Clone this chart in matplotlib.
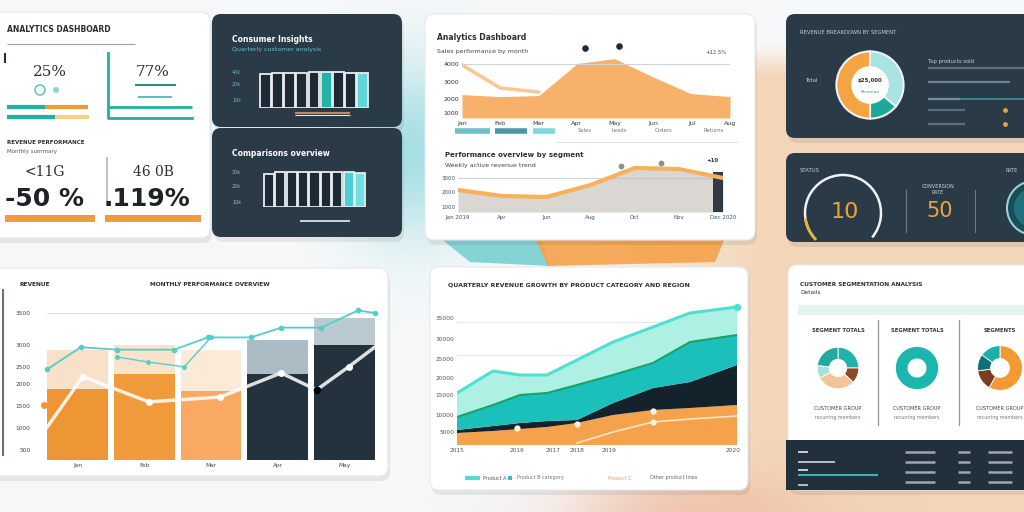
import numpy as np
import matplotlib.pyplot as plt
from matplotlib.patches import FancyBboxPatch, Circle, Arc, Polygon, Rectangle

W, H = 1024, 512

# ---------------- data ----------------
# top-left KPI card
kpi_small = ["25%", "77%"]
kpi_mid = ["<11G", "46 0B"]
kpi_big = ["-50 %", ".119%"]

# dark mini slat charts
slats_a = [0.93, 0.97, 0.97, 0.98, 1.0, 1.0, 1.0, 0.98, 0.96]
slats_b = [0.95, 0.98, 1.0, 1.0, 1.0, 1.0, 0.99, 0.98, 0.96]

# top-middle upper area chart
area1_x = [0, 1, 2, 3, 4, 5, 6, 7]
area1_y = [25, 23, 24, 56, 61, 43, 26, 23]
area1_faded = [53, 30, 26]
area1_dots_x = [3.2, 4.1]
area1_dots_y = [70, 72]
area1_labels = ["Jan", "Feb", "Mar", "Apr", "May", "Jun", "Jul", "Aug"]
area1_yticks = [5, 19, 36, 54]
area1_yticklabels = ["1000", "2000", "3000", "4000"]

# top-middle lower line chart
line2_x = [0, 1, 2, 3, 4, 5, 6]
line2_y = [22, 16, 15, 27, 44, 43, 34]
line2_labels = ["Jan 2019", "Apr", "Jun", "Aug", "Oct", "Nov", "Dec 2020"]

# top-right donut
donut_main = [36, 14, 50]
donut_main_colors = ["#a9e4e3", "#1ba99b", "#f4a443"]

# bottom-left bar chart
bar_labels = ["Jan", "Feb", "Mar", "Apr", "May"]
bar_actual = [29, 35, 28, 35, 47]
bar_target = [45, 47, 45, 49, 58]
bar_colors = ["#ee9634", "#f09a3c", "#f8a964", "#24323e", "#24323e"]
bar_light = ["#f8d6b6", "#f9d9bb", "#fbe3cc", "#91a6b0", "#a5b9c1"]
teal_x = [-0.45, 0.05, 0.6, 1.45, 1.95, 2.6, 3.05, 3.65, 4.2, 4.45]
teal_y = [37, 46, 45, 45, 50, 50, 54, 54, 61, 60]
teal2_x = [0.6, 1.05, 1.6, 2.0]
teal2_y = [42, 40, 38, 50]
white_x = [-0.45, 0.08, 1.07, 2.14, 3.05, 3.58, 4.06, 4.45]
white_y = [13.5, 34, 23.7, 25.7, 35.5, 28.6, 38, 46]
bar_yticks = [4, 13, 22, 31, 38, 47, 60]
bar_yticklabels = ["500", "1000", "1500", "2000", "2500", "3000", "3500"]

# bottom-middle stacked area chart
stack_x = [0, 0.9, 1.575, 2.25, 3, 3.9, 4.9, 5.825, 7]
stack_orange = [6, 7, 8, 9, 11, 15, 17.5, 18.5, 20]
stack_dark = [1.5, 2.5, 3, 3, 1.5, 6, 11, 13, 20]
stack_teal = [6.5, 10.5, 14, 14, 17.5, 14, 12.5, 20, 15]
stack_light = [12, 17, 10, 9, 12.5, 16.5, 18, 14.5, 14]
stack_white_x = [3, 3.9, 4.9, 5.825, 7]
stack_white_y = [1, 6.5, 11.5, 13, 14.5]
stack_yticks = [6.5, 15, 25, 33.5, 43, 53, 63.5]
stack_yticklabels = ["5000", "10000", "15000", "20000", "25000", "30000", "35000"]
stack_xticks = [0, 1.5, 2.4, 3.0, 3.8, 6.9]
stack_xlabels = ["2015", "2016", "2017", "2018", "2019", "2020"]

# bottom-right donuts
donut1 = [25, 12, 30, 10, 23]
donut1_colors = ["#1fb3ac", "#8a4a25", "#f3c596", "#a7e0d8", "#22a9a3"]
donut2 = [100]
donut2_colors = ["#1db6ae"]
donut3 = [58, 15, 12, 15]
donut3_colors = ["#f39a35", "#7a3d1e", "#0f6f78", "#1bb0a8"]
donut_headers = ["SEGMENT TOTALS", "SEGMENT TOTALS", "SEGMENTS"]

DARK = "#2b3a47"
TXT = "#2a2f35"

fig = plt.figure(figsize=(10.24, 5.12), dpi=100)

# ---------------- background ----------------
bg = fig.add_axes([0, 0, 1, 1])
bg.set_xlim(0, W)
bg.set_ylim(H, 0)
bg.axis("off")

yy, xx = np.mgrid[0:H, 0:W]
img = np.ones((H, W, 3)) * np.array([0.965, 0.972, 0.976])


def blend(im, col, w):
    w = w[..., None]
    return im * (1 - w) + np.array(col) * w


img = blend(img, (0.95, 0.81, 0.67), np.clip((xx - 560) / 200, 0, 1) * np.clip((yy - 45) / 30, 0, 1) * 0.8)
img = blend(img, (0.60, 0.86, 0.88), np.exp(-((xx - 412) / 65) ** 2 - ((yy - 150) / 85) ** 2) * 0.85)
img = blend(img, (0.93, 0.70, 0.60), np.exp(-((xx - 690) / 130) ** 2 - ((yy - 512) / 40) ** 2) * 0.6)
bg.imshow(img, extent=(0, W, H, 0), aspect="auto", zorder=0)

bg.add_patch(Polygon([(440, 238), (540, 238), (550, 266), (470, 262)], fc="#86d3d5", ec="none", zorder=0.5))
bg.add_patch(Polygon([(535, 238), (725, 238), (715, 262), (548, 266)], fc="#f5a24a", ec="none", alpha=0.9, zorder=0.5))


def card(x0, y0, x1, y1, fc, r=9):
    bg.add_patch(FancyBboxPatch((x0 + 2, y0 + 5), x1 - x0, y1 - y0,
                                boxstyle=f"round,pad=0,rounding_size={r}",
                                fc="black", ec="none", alpha=0.07, zorder=1))
    bg.add_patch(FancyBboxPatch((x0, y0), x1 - x0, y1 - y0,
                                boxstyle=f"round,pad=0,rounding_size={r}",
                                fc=fc, ec="#e6e9eb" if fc == "white" else "none",
                                lw=0.8, zorder=1.2))


card(-12, 12, 210, 238, "white")
card(212, 14, 402, 127, DARK)
card(212, 128, 402, 237, DARK)
card(425, 14, 755, 240, "white")
card(786, 14, 1040, 138, DARK)
card(786, 153, 1040, 242, DARK)
card(-12, 268, 388, 476, "white")
card(430, 267, 748, 490, "white")
card(788, 265, 1040, 490, "white")
bg.add_patch(Rectangle((786, 440), 250, 50, fc="#22303b", ec="none", zorder=1.3))


def t(x, y, s, size=4.5, color=TXT, **kw):
    bg.text(x, y, s, fontsize=size, color=color, va="center", zorder=3, **kw)


def hline(x0, x1, y, color, lw=1.0, alpha=1.0):
    bg.plot([x0, x1], [y, y], color=color, lw=lw, alpha=alpha, solid_capstyle="butt", zorder=3)


# ---------------- top-left KPI card ----------------
t(7, 30, "ANALYTICS DASHBOARD", 5.5, weight="bold")
hline(7, 135, 44, "#9aa0a6", 0.8)
bg.plot([5, 5], [54, 62], color=TXT, lw=1.5, zorder=3)
t(33, 72, kpi_small[0], 11, family="DejaVu Serif")
t(136, 72, kpi_small[1], 11, family="DejaVu Serif")
bg.add_patch(Circle((40, 90), 5, fc="none", ec="#6cc8c6", lw=1.2, zorder=3))
bg.add_patch(Circle((56, 90), 3, fc="#8fd4d2", ec="none", zorder=3))
hline(7, 45, 107, "#1fb39c", 3)
hline(45, 88, 107, "#f09a3c", 3)
hline(7, 55, 117, "#1fb39c", 3)
hline(55, 89, 117, "#f8cf8a", 3)
bg.plot([108, 108, 192], [53, 118, 118], color="#1fb39c", lw=2, zorder=3)
hline(108, 192, 107, "#1fb39c", 2)
hline(135, 176, 85, "#2b8c86", 1.5)
hline(138, 172, 97, "#3ab8a6", 1.2)
t(7, 142, "REVENUE PERFORMANCE", 4, weight="bold")
t(7, 152, "Monthly summary", 4, color="#555")
bg.plot([107, 107], [158, 205], color="#bfc4c8", lw=1.5, zorder=3)
t(25, 172, kpi_mid[0], 10, family="DejaVu Serif")
t(133, 172, kpi_mid[1], 10, family="DejaVu Serif")
t(5, 199, kpi_big[0], 18, weight="bold", color="#1e2328")
t(104, 199, kpi_big[1], 18, weight="bold", color="#1e2328")
bg.add_patch(Rectangle((5, 215), 90, 7, fc="#ef9b3e", ec="none", zorder=3))
bg.add_patch(Rectangle((105, 215), 96, 7, fc="#ef9b3e", ec="none", zorder=3))


# ---------------- dark slat cards ----------------
def slat_chart(box, vals, teal_idx):
    x0, y0, x1, y1 = box
    ax = fig.add_axes([x0 / W, 1 - y1 / H, (x1 - x0) / W, (y1 - y0) / H])
    cols = ["#1d2a34"] * len(vals)
    for i, c in teal_idx.items():
        cols[i] = c
    ax.bar(range(len(vals)), vals, width=0.9, color=cols, edgecolor="#e8edf0", lw=1.3)
    ax.set_ylim(0, 1.05)
    ax.set_xlim(-0.6, len(vals) - 0.4)
    ax.axis("off")
    return ax


t(232, 40, "Consumer Insights", 5.5, color="white", weight="bold")
t(232, 49, "Quarterly customer analysis", 4.5, color="#5fc4c8")
for yv, s in zip([72, 85, 100], ["40k", "20k", "10k"]):
    t(232, yv, s, 3.5, color="#6fb5b8")
slat_chart((258, 70, 370, 108), slats_a, {5: "#21b3a3", 8: "#5fd7da"})
hline(295, 350, 113, "#c48a5a", 1.5)
hline(295, 350, 115, "#f0e6d8", 0.8)

t(232, 153, "Comparisons overview", 5.5, color="white", weight="bold")
for yv, s in zip([172, 187, 203], ["30k", "20k", "10k"]):
    t(232, yv, s, 3.5, color="#aab4bb")
slat_chart((262, 170, 367, 207), slats_b, {7: "#4fcfd5", 8: "#6fdfe2"})
hline(300, 350, 221, "#e9edf0", 1.2)


def style(ax, size=4.5, color="#555"):
    for s in ax.spines.values():
        s.set_visible(False)
    ax.tick_params(length=0, labelsize=size, labelcolor=color, pad=2)
    ax.patch.set_alpha(0)


# ---------------- top-middle card ----------------
t(437, 37, "Analytics Dashboard", 5.5, weight="bold")
t(437, 52, "Sales performance by month", 4.5, color="#444")
t(705, 53, "+12.5%", 3.8, color="#444")
ax1 = fig.add_axes([462 / W, 1 - 118 / H, 268 / W, 73 / H])
ax1.fill_between(area1_x, area1_y, color="#f7a95a", alpha=0.9, lw=0)
ax1.plot(area1_x, area1_y, color="white", lw=3)
ax1.plot(area1_x[:3], area1_faded, color="#f6b979", lw=2.5, alpha=0.8)
ax1.axhline(54, color="#cfd4d8", lw=0.8)
ax1.scatter(area1_dots_x, area1_dots_y, s=14, color="#1e2a35", zorder=5, clip_on=False)
ax1.set_xlim(0, 7)
ax1.set_ylim(0, 73)
ax1.set_yticks(area1_yticks, area1_yticklabels)
ax1.set_xticks(area1_x, area1_labels)
style(ax1, 4.5, "#333")
for (xa, xb), c in zip([(455, 490), (495, 527), (533, 555)], ["#6fbfc8", "#4a9aa6", "#7fd8dc"]):
    hline(xa, xb, 131, c, 4)
for xv, s in zip([578, 612, 655, 704], ["Sales", "Leads", "Orders", "Returns"]):
    t(xv, 131, s, 3.8, color="#777")
hline(555, 738, 142, "#dde2e5", 0.8)

t(445, 155, "Performance overview by segment", 5, weight="bold")
t(445, 166, "Weekly active revenue trend", 4.5, color="#444")
t(706, 160, "+10", 4, color="#333", weight="bold")
ax2 = fig.add_axes([458 / W, 1 - 212 / H, 265 / W, 47 / H])
ax2.fill_between(line2_x, line2_y, color="#bdb6b0", alpha=0.55, lw=0)
ax2.plot(line2_x, line2_y, color="#f6b15a", lw=3)
ax2.bar([5.9], [40], width=0.25, color="#2f3a44")
ax2.scatter([3.7, 4.6], [46, 49], s=10, color="#8a8f94", zorder=5, clip_on=False)
ax2.axhline(34, color="#cfd4d8", lw=0.8, zorder=0)
ax2.set_xlim(0, 6)
ax2.set_ylim(0, 47)
ax2.set_yticks([5, 20, 34], ["1000", "2000", "3000"])
ax2.set_xticks(line2_x, line2_labels)
style(ax2, 4, "#3c5566")

# ---------------- top-right dark cards ----------------
t(800, 32, "REVENUE BREAKDOWN BY SEGMENT", 3.8, color="#c8cfd4")
t(806, 80, "Total", 3.8, color="#c8cfd4")
axd = fig.add_axes([828 / W, 1 - 127 / H, 84 / W, 84 / H])
axd.pie(donut_main, colors=donut_main_colors, startangle=90, counterclock=False,
        wedgeprops=dict(edgecolor="#eef2f2", lw=1.5))
axd.add_patch(Circle((0, 0), 0.56, fc="white", ec="none"))
axd.text(0, 0.12, "$25,000", fontsize=4, ha="center", va="center", color=TXT, weight="bold")
axd.text(0, -0.22, "Revenue", fontsize=3.2, ha="center", va="center", color="#2b8c86")
axd.set_aspect("equal")
t(928, 61, "Top products sold", 3.8, color="#c8cfd4")
for yv, xe, c in [(68, 1024, "#5b6e7c"), (82, 1010, "#6d8190"), (99, 960, "#7a8e9c"),
                  (110, 965, "#54707f"), (124, 965, "#5b6e7c")]:
    hline(928, xe, yv, c, 1.6)
hline(960, 1024, 99, "#3f8fa5", 1.2)
bg.scatter([1005, 1005], [110, 124], s=6, color="#f0a040", zorder=4)

t(800, 170, "STATUS", 3.8, color="#c8cfd4")
bg.add_patch(Arc((843, 213), 76, 76, theta1=140, theta2=40, color="#eef2f4", lw=1.8, zorder=3))
bg.add_patch(Arc((843, 213), 76, 76, theta1=135, theta2=172, color="#e8b33a", lw=2, zorder=3.1))
t(845, 212, "10", 16, color="#f0a23f", ha="center")
bg.plot([906, 906], [190, 232], color="#6b7a86", lw=0.8, zorder=3)
bg.plot([975, 975], [190, 232], color="#6b7a86", lw=0.8, zorder=3)
t(938, 186, "CONVERSION", 3.5, color="#c8cfd4", ha="center")
t(938, 193, "RATE", 3.5, color="#c8cfd4", ha="center")
t(940, 211, "50", 15, color="#f0a23f", ha="center")
t(1005, 170, "RATE", 3.5, color="#c8cfd4")
bg.add_patch(Circle((1034, 208), 27, fc="#1a4d5a", ec="#9ed0d2", lw=1.5, zorder=3))
bg.add_patch(Circle((1034, 208), 20, fc="#1f7c88", ec="none", alpha=0.8, zorder=3.1))

# ---------------- bottom-left bar chart ----------------
t(20, 285, "REVENUE", 4.2, weight="bold")
t(210, 285, "MONTHLY PERFORMANCE OVERVIEW", 4.2, ha="center", weight="bold")
bg.plot([3, 3], [290, 455], color="#6b7075", lw=1.5, zorder=3)
ax3 = fig.add_axes([47 / W, 1 - 460 / H, 328 / W, 152 / H])
xb = np.arange(len(bar_actual))
ax3.bar(xb, bar_target, width=0.91, color=bar_light, alpha=0.75, zorder=1)
ax3.bar(xb, bar_actual, width=0.91, color=bar_colors, zorder=2)
ax3.axhline(60, color="#dfe3e6", lw=0.8, zorder=0)
ax3.plot(teal_x, teal_y, color="#52cfc6", lw=1.3, marker="o", ms=3, zorder=4, clip_on=False)
ax3.plot(teal2_x, teal2_y, color="#52cfc6", lw=1.0, marker="o", ms=2.5, zorder=4)
ax3.plot(white_x, white_y, color="white", lw=2.5, alpha=0.85, zorder=3, clip_on=False)
ax3.scatter(white_x[1:-1], white_y[1:-1], s=16, color="white", zorder=5)
ax3.scatter([3.58], [28.6], s=20, color="black", zorder=6)
ax3.scatter([-0.5], [22.4], s=16, color="#f0982f", zorder=6, clip_on=False)
ax3.set_xlim(-0.455, 4.455)
ax3.set_ylim(0, 62)
ax3.set_yticks(bar_yticks, bar_yticklabels)
ax3.set_xticks(xb, bar_labels)
style(ax3, 4.2, "#444")
ax3.tick_params(axis="y", pad=12)

# ---------------- bottom-middle stacked area ----------------
t(448, 285, "QUARTERLY REVENUE GROWTH BY PRODUCT CATEGORY AND REGION", 4.5, weight="bold")
ax4 = fig.add_axes([457 / W, 1 - 445 / H, 280 / W, 145 / H])
ax4.stackplot(stack_x, stack_orange, stack_dark, stack_teal, stack_light,
              colors=["#f5a24c", "#14222c", "#1cc0bb", "#aef0e3"], lw=0)
cum = np.cumsum([stack_orange, stack_dark, stack_teal, stack_light], axis=0)
ax4.plot(stack_x, cum[2], color="#17a36a", lw=1.5)
ax4.plot(stack_x, cum[3], color="#4fe0d0", lw=2.2)
ax4.plot(stack_white_x, stack_white_y, color="#fbe6c8", lw=1.2)
ax4.scatter([1.5, 3.0, 4.9, 4.9], [8.5, 10.5, 17, 11.5], s=12, color="#fff3e2", zorder=5)
ax4.scatter([7], [69], s=18, color="#4fe0d0", zorder=5, clip_on=False)
for g in [45, 61.5]:
    ax4.axhline(g, color="#e4e8ea", lw=0.8, zorder=0)
ax4.set_xlim(0, 7)
ax4.set_ylim(0, 72.5)
ax4.set_yticks(stack_yticks, stack_yticklabels)
ax4.set_xticks(stack_xticks, stack_xlabels)
style(ax4, 4.2, "#555")
for (xa, xb2), c in zip([(465, 480), (508, 512)], ["#5ed7d4", "#3cb7c5"]):
    hline(xa, xb2, 478, c, 3)
t(483, 478, "Product A", 3.5, color="#555")
t(517, 478, "Product B category", 3.5, color="#777")
t(608, 478, "Product C", 3.5, color="#f0a060")
t(650, 478, "Other product lines", 3.5, color="#666")

# ---------------- bottom-right donuts ----------------
t(800, 285, "CUSTOMER SEGMENTATION ANALYSIS", 4.2, weight="bold")
t(800, 292, "Details", 4.2, color="#333")
bg.add_patch(Rectangle((798, 305), 240, 10, fc="#e3f4ef", ec="none", zorder=2))
bg.plot([878, 878], [320, 425], color="#8e969c", lw=0.9, zorder=3)
bg.plot([959, 959], [320, 425], color="#8e969c", lw=0.9, zorder=3)
for cx, vals, cols, r, head in [(838, donut1, donut1_colors, 26, donut_headers[0]),
                                (917, donut2, donut2_colors, 27, donut_headers[1]),
                                (1000, donut3, donut3_colors, 28, donut_headers[2])]:
    axp = fig.add_axes([(cx - r) / W, 1 - (368 + r) / H, 2 * r / W, 2 * r / H])
    axp.pie(vals, colors=cols, startangle=90, counterclock=False,
            wedgeprops=dict(width=0.58, edgecolor="white", lw=0.6))
    axp.set_aspect("equal")
    t(cx, 330, head, 3.8, color="#333", ha="center", weight="bold")
    t(cx, 408, "CUSTOMER GROUP", 3.6, color="#444", ha="center")
    t(cx, 418, "recurring members", 3.4, color="#777", ha="center")

for yv, xe, c in [(452, 808, "#e6eaec"), (462, 835, "#cfd6da"), (470, 808, "#e6eaec"),
                  (475, 878, "#3fd0d0"), (485, 808, "#cfd6da")]:
    hline(798, xe, yv, c, 1.2)
for xa, xe in [(905, 935), (958, 970), (988, 1012)]:
    for yv in [452, 462, 472, 482]:
        hline(xa, xe, yv, "#9aa7b0", 1.8)

fig.savefig("out.png", dpi=100)
